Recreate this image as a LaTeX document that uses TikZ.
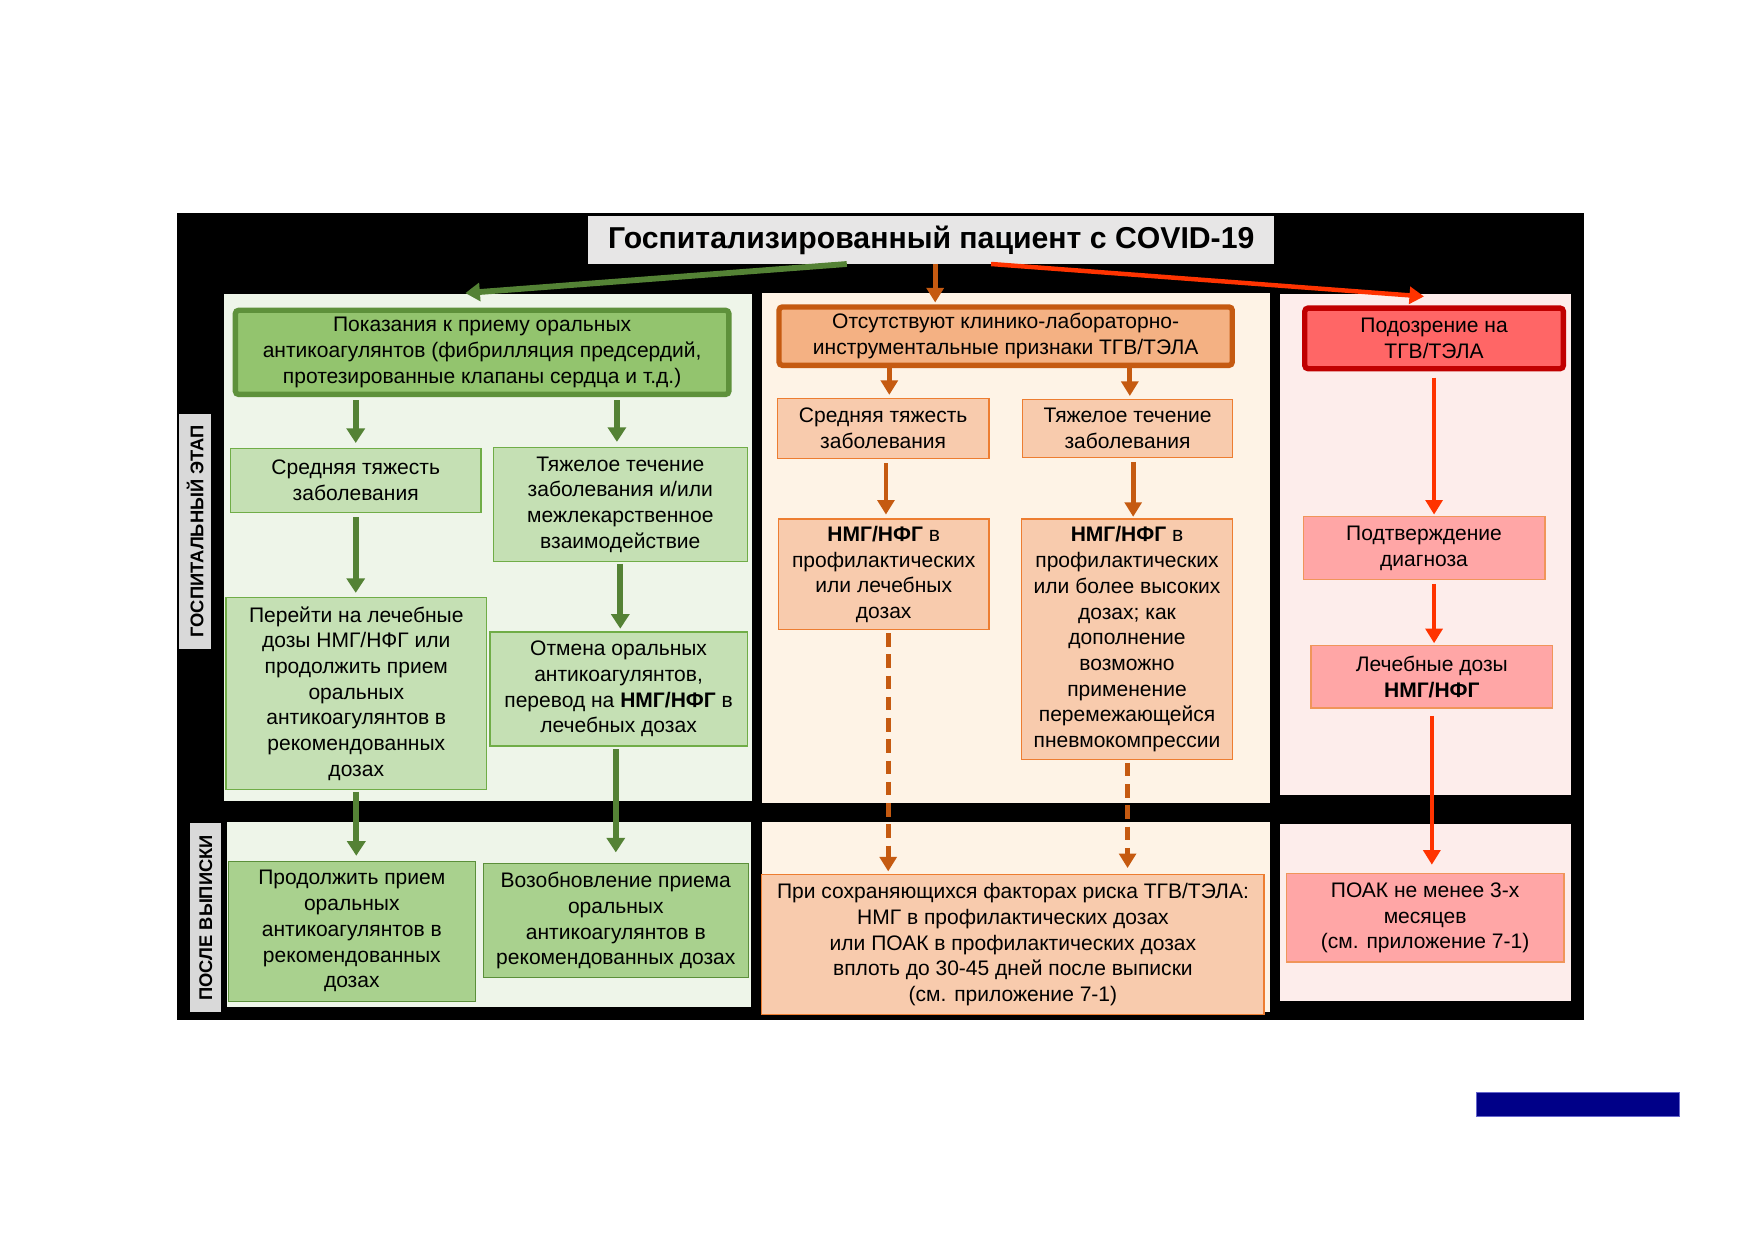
\documentclass[tikz,border=0pt]{standalone}
\usepackage{fontspec}
\setmainfont{Liberation Sans}
\usetikzlibrary{arrows.meta,calc}
\definecolor{lpbg}{HTML}{EEF5E9}
\definecolor{mpbg}{HTML}{FEF3E6}
\definecolor{rpbg}{HTML}{FDEDEB}
\definecolor{titlebg}{HTML}{E7E6E6}
\definecolor{sidebg}{HTML}{D9D9D9}
\definecolor{gA1}{HTML}{93C46E}
\definecolor{gA1b}{HTML}{5E913B}
\definecolor{gLight}{HTML}{C5E0B4}
\definecolor{gLine}{HTML}{70AD47}
\definecolor{gMid}{HTML}{A9D18E}
\definecolor{gLine2}{HTML}{5B8F3A}
\definecolor{gArr}{HTML}{548235}
\definecolor{oTop}{HTML}{F4B183}
\definecolor{oTopb}{HTML}{C55A11}
\definecolor{oLight}{HTML}{F8CBAD}
\definecolor{oLine}{HTML}{ED7D31}
\definecolor{oArr}{HTML}{C55A11}
\definecolor{rTop}{HTML}{FF6666}
\definecolor{rTopb}{HTML}{C00000}
\definecolor{rLight}{HTML}{FFA6A6}
\definecolor{rLine}{HTML}{F0955A}
\definecolor{rArr}{HTML}{FF3300}
\definecolor{navybar}{HTML}{000088}
\definecolor{navyedge}{HTML}{6666CC}
\newcommand{\bx}[7]{\node[#6, minimum width={(#4-#2)*0.5pt}, minimum height={(#5-#3)*0.5pt}] (#1) at ({(#2+#4)/2},{(#3+#5)/2}) {#7};}
\tikzset{
  x=0.5pt, y=-0.5pt,
  every node/.style={font=\fontsize{9.4}{11.5}\selectfont, align=center, inner sep=0pt, outer sep=0pt},
  panel/.style={fill=#1, draw=none},
  gtop/.style={fill=gA1, draw=gA1b, line width=2.4pt, rounded corners=1.5pt},
  gbox/.style={fill=gLight, draw=gLine, line width=0.6pt},
  gbox2/.style={fill=gMid, draw=gLine2, line width=0.6pt},
  otop/.style={fill=oTop, draw=oTopb, line width=2.4pt, rounded corners=1.5pt},
  obox/.style={fill=oLight, draw=oLine, line width=0.6pt},
  rtop/.style={fill=rTop, draw=rTopb, line width=2.4pt, rounded corners=1.5pt},
  rbox/.style={fill=rLight, draw=rLine, line width=0.6pt},
  sidelabel/.style={fill=sidebg, rotate=90, font=\fontsize{8.2}{10}\selectfont\bfseries},
  garr/.style={draw=gArr, line width=2.6pt, -{Triangle[width=8pt,length=6.5pt]}},
  oarr/.style={draw=oArr, line width=2.2pt, -{Triangle[width=7.5pt,length=6.5pt]}},
  oarrd/.style={oarr, dash pattern=on 6pt off 3.5pt},
  rarr/.style={draw=rArr, line width=2pt, -{Triangle[width=7.5pt,length=6.5pt]}},
}
\begin{document}
\begin{tikzpicture}
\useasboundingbox (0,0) rectangle (1568,1108);
% black background
\fill[black] (158,190) rectangle (1416,912);
% panels
\bx{lp}{200}{263}{672}{716}{panel=lpbg}{}
\bx{lpb}{203}{735}{671}{900}{panel=lpbg}{}
\bx{mp}{681}{262}{1135}{718}{panel=mpbg}{}
\bx{mpb}{681}{735}{1135}{905}{panel=mpbg}{}
\bx{rp}{1144}{263}{1404}{711}{panel=rpbg}{}
\bx{rpb}{1144}{737}{1404}{895}{panel=rpbg}{}
% side labels
\node[sidelabel, minimum width=105pt, minimum height=14.5pt] (s1) at (174.5,475) {ГОСПИТАЛЬНЫЙ ЭТАП};
\node[sidelabel, minimum width=84.5pt, minimum height=14pt] (s2) at (184,820.5) {ПОСЛЕ ВЫПИСКИ};
% title
\bx{T}{526}{193}{1139}{236}{fill=titlebg, font=\fontsize{13.5}{15}\selectfont\bfseries}{Госпитализированный пациент с COVID-19}
% left column
\bx{A1}{210.4}{277.4}{651.6}{352.6}{gtop}{Показания к приему оральных\\антикоагулянтов (фибрилляция предсердий,\\протезированные клапаны сердца и т.д.)}
\bx{L1}{206}{401}{430}{458}{gbox}{Средняя тяжесть\\заболевания}
\bx{R1}{441}{400}{668}{502}{gbox}{Тяжелое течение\\заболевания и/или\\межлекарственное\\взаимодействие}
\bx{L2}{202}{534}{435}{706}{gbox}{Перейти на лечебные\\дозы НМГ/НФГ или\\продолжить прием\\оральных\\антикоагулянтов в\\рекомендованных\\дозах}
\bx{R2}{438}{565}{668}{667}{gbox}{Отмена оральных\\антикоагулянтов,\\перевод на \textbf{НМГ/НФГ} в\\лечебных дозах}
\bx{L3}{204}{770}{425}{895}{gbox2}{Продолжить прием\\оральных\\антикоагулянтов в\\рекомендованных\\дозах}
\bx{R3}{432}{772}{669}{874}{gbox2}{Возобновление приема\\оральных\\антикоагулянтов в\\рекомендованных дозах}
% middle column
\bx{M0}{696.4}{274.4}{1101.6}{326.6}{otop}{Отсутствуют клинико-лабораторно-\\инструментальные признаки ТГВ/ТЭЛА}
\bx{ML1}{695}{356}{884}{410}{obox}{Средняя тяжесть\\заболевания}
\bx{MR1}{914}{357}{1102}{409}{obox}{Тяжелое течение\\заболевания}
\bx{ML2}{696}{464}{884}{563}{obox}{\textbf{НМГ/НФГ} в\\профилактических\\или лечебных\\дозах}
\bx{MR2}{913}{464}{1102}{679}{obox}{\textbf{НМГ/НФГ} в\\профилактических\\или более высоких\\дозах; как\\дополнение\\возможно\\применение\\перемежающейся\\пневмокомпрессии}
\bx{MB}{681}{782}{1130}{907}{obox}{При сохраняющихся факторах риска ТГВ/ТЭЛА:\\НМГ в профилактических дозах\\или ПОАК в профилактических дозах\\вплоть до 30-45 дней после выписки\\(см. приложение 7-1)}
% right column
\bx{RR0}{1166.4}{275.4}{1397.6}{329.6}{rtop}{Подозрение на\\ТГВ/ТЭЛА}
\bx{RR1}{1165}{462}{1381}{518}{rbox}{Подтверждение\\диагноза}
\bx{RR2}{1172}{577}{1388}{633}{rbox}{Лечебные дозы\\\textbf{НМГ/НФГ}}
\bx{RR3}{1150}{781}{1398}{860}{rbox}{ПОАК не менее 3-х\\месяцев\\(см. приложение 7-1)}
% bar
\bx{bar}{1320}{977}{1501}{998}{fill=navybar, draw=navyedge, line width=0.4pt}{}
% title arrows
\coordinate (gs) at ($(T.south west)+(231,0)$);
\coordinate (os) at ($(T.south west)+(310,0)$);
\coordinate (rs) at ($(T.south west)+(360,0)$);
\coordinate (gt) at (416,262);
\coordinate (rt) at (1273,265);
\draw[garr] (gs) -- (gt);
\draw[oarr, shorten >=2pt] (os) -- (os |- M0.north);
\draw[rarr] (rs) -- (rt);
% left arrows
\draw[garr, shorten <=2.5pt, shorten >=2.5pt] (A1.south -| L1.north) -- (L1.north);
\draw[garr, shorten <=2.5pt, shorten >=2.5pt] ([xshift=-1.5pt]A1.south -| R1.north) -- ([xshift=-1.5pt]R1.north);
\draw[garr, shorten <=2pt, shorten >=2pt] (L1.south) -- (L1.south |- L2.north);
\draw[garr, shorten <=1pt, shorten >=1.5pt] (R1.south) -- (R1.south |- R2.north);
\draw[garr, shorten <=1pt, shorten >=2.5pt] (L2.south) -- (L2.south |- L3.north);
\draw[garr, shorten <=1.5pt, shorten >=5pt] (R3.north |- R2.south) -- (R3.north);
% middle arrows
\draw[oarr, shorten <=1pt, shorten >=1.5pt] ([xshift=2.75pt]M0.south -| ML1.north) -- ([xshift=2.75pt]ML1.north);
\draw[oarr, shorten <=1pt, shorten >=1.5pt] ([xshift=1pt]M0.south -| MR1.north) -- ([xshift=1pt]MR1.north);
\draw[oarr, shorten <=2pt, shorten >=2pt] ([xshift=1.25pt]ML1.south) -- ([xshift=1.25pt]ML1.south |- ML2.north);
\draw[oarr, shorten <=2pt, shorten >=1pt] ([xshift=2.5pt]MR1.south) -- ([xshift=2.5pt]MR1.south |- MR2.north);
\draw[oarrd, shorten <=1.5pt, shorten >=1.5pt] ([xshift=2pt]ML2.south) -- ([xshift=2pt]ML2.south |- MB.north);
\draw[oarrd, shorten <=1.5pt, shorten >=3pt] ([xshift=0.25pt]MR2.south) -- ([xshift=0.25pt]MR2.south |- MB.north);
% right arrows
\draw[rarr, shorten <=4pt, shorten >=1pt] (RR0.south) -- (RR0.south |- RR1.north);
\draw[rarr, shorten <=2pt, shorten >=1pt] ([xshift=4.5pt]RR1.south) -- ([xshift=4.5pt]RR1.south |- RR2.north);
\draw[rarr, shorten <=3.5pt, shorten >=4pt] (RR2.south) -- (RR2.south |- RR3.north);
\end{tikzpicture}
\end{document}
